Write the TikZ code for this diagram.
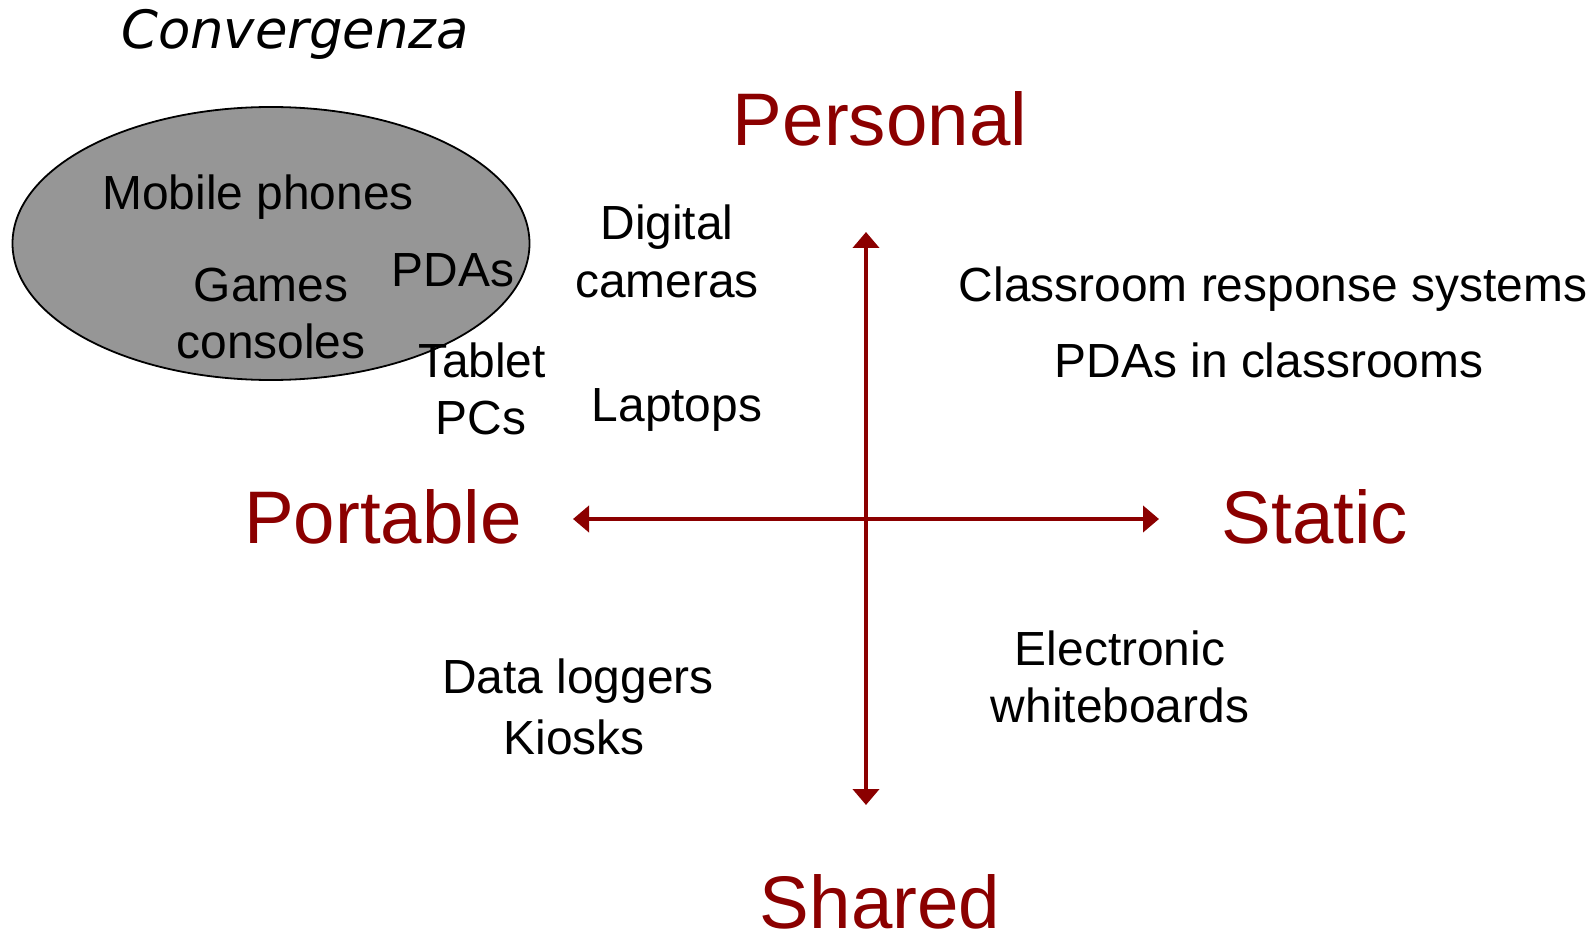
\documentclass[tikz,border=0pt]{standalone}
\usepackage{fontspec}
\setmainfont{Liberation Sans}
\newfontfamily\titlefont{DejaVu Sans}
\usetikzlibrary{arrows.meta}
\definecolor{axisred}{RGB}{139,0,0}
\definecolor{blobgray}{RGB}{150,150,150}
\tikzset{
  item/.style={anchor=base, inner sep=0pt, font=\fontsize{47.9}{56}\selectfont, text=black},
  pole/.style={anchor=base, inner sep=0pt, font=\fontsize{74.5}{88}\selectfont, text=axisred},
  axis/.style={draw=axisred, line width=4pt, {Triangle[length=16pt,width=26pt]}-{Triangle[length=16pt,width=26pt]}},
}
\begin{document}
\begin{tikzpicture}[x=1pt,y=-1pt]
\useasboundingbox (0,0) rectangle (1596,936);

% convergence blob
\draw[fill=blobgray, draw=black, line width=1.8pt] (271,243.5) ellipse [x radius=258.5, y radius=136.5];
\node[anchor=base, inner sep=0pt, font=\titlefont\itshape\fontsize{52.8}{60}\selectfont] (title) at (295,49) {Convergenza};

% axes
\coordinate (top) at (866,232);
\coordinate (bottom) at (866,805);
\coordinate (left) at (573,519);
\coordinate (right) at (1159,519);
\draw[axis] (top) -- (bottom);
\draw[axis] (left) -- (right);

% poles
\node[pole] (personal) at (880,146) {Personal};
\node[pole] (portable) at (383,543) {Portable};
\node[pole] (static) at (1315,543) {Static};
\node[pole] (shared) at (880,928) {Shared};

% devices
\node[item] (mobile) at (258,210) {Mobile phones};
\node[item] (pdas) at (453,286) {PDAs};
\node[item] (games) at (271,301) {Games};
\node[item] (consoles) at (271,358) {consoles};
\node[item] (tablet) at (482,377) {Tablet};
\node[item] (pcs) at (481,434) {PCs};
\node[item] (digital) at (667,240) {Digital};
\node[item] (cameras) at (667,297) {cameras};
\node[item] (laptops) at (677,421) {Laptops};
\node[item] (crs) at (1273,301) {Classroom response systems};
\node[item] (pdaclass) at (1269,377) {PDAs in classrooms};
\node[item] (loggers) at (578,693) {Data loggers};
\node[item] (kiosks) at (574,754) {Kiosks};
\node[item] (electronic) at (1120,665) {Electronic};
\node[item] (whiteboards) at (1120,722) {whiteboards};
\end{tikzpicture}
\end{document}
